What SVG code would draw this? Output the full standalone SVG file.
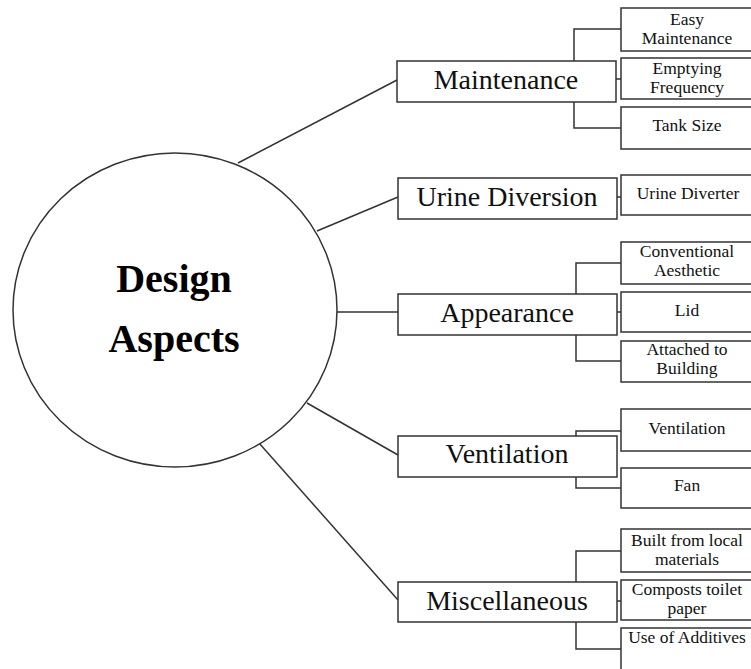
<svg xmlns="http://www.w3.org/2000/svg" width="751" height="669" viewBox="0 0 751 669">
<style>
.b{fill:#fff;stroke:#333;stroke-width:1.5}
.c{fill:none;stroke:#333;stroke-width:1.5}
.m{font-family:"Liberation Serif","Times New Roman",serif;font-size:28px;fill:#111;text-anchor:middle}
.s{font-family:"Liberation Serif","Times New Roman",serif;font-size:17.5px;fill:#111;text-anchor:middle}
.h{font-family:"Liberation Serif","Times New Roman",serif;font-size:40px;font-weight:bold;fill:#000;text-anchor:middle}
</style>
<rect width="751" height="669" fill="#fff"/>
<g id="connectors">
<line class="c" x1="238" y1="163" x2="397" y2="80"/>
<line class="c" x1="317" y1="231" x2="398" y2="197"/>
<line class="c" x1="337" y1="312" x2="398" y2="312"/>
<line class="c" x1="307" y1="403" x2="398" y2="455"/>
<line class="c" x1="259" y1="443" x2="398" y2="600"/>
<polyline class="c" points="621,29 574,29 574,128 621,128"/>
<line class="c" x1="616" y1="79" x2="621" y2="79"/>
<line class="c" x1="617" y1="197" x2="621" y2="197"/>
<polyline class="c" points="621,263 576,263 576,361 621,361"/>
<line class="c" x1="617" y1="312" x2="621" y2="312"/>
<polyline class="c" points="621,431 576,431 576,436"/>
<polyline class="c" points="576,477 576,488 621,488"/>
<polyline class="c" points="621,551 576,551 576,649 621,649"/>
<line class="c" x1="617" y1="601" x2="621" y2="601"/>
</g>
<g id="design-aspects">
<ellipse class="b" cx="175" cy="310" rx="162" ry="157"/>
<text class="h" x="174" y="292">Design</text>
<text class="h" x="174" y="352">Aspects</text>
</g>
<g id="maintenance">
<rect class="b" x="397" y="61" width="219" height="41"/>
<text class="m" x="506" y="89">Maintenance</text>
</g>
<g id="easy-maintenance">
<rect class="b" x="621" y="8" width="140" height="43"/>
<text class="s" x="687" y="25">Easy</text>
<text class="s" x="687" y="44">Maintenance</text>
</g>
<g id="emptying-frequency">
<rect class="b" x="621" y="58" width="140" height="41"/>
<text class="s" x="687" y="74">Emptying</text>
<text class="s" x="687" y="93">Frequency</text>
</g>
<g id="tank-size">
<rect class="b" x="621" y="107" width="140" height="42"/>
<text class="s" x="687" y="131">Tank Size</text>
</g>
<g id="urine-diversion">
<rect class="b" x="398" y="178" width="219" height="41"/>
<text class="m" x="507" y="206">Urine Diversion</text>
</g>
<g id="urine-diverter">
<rect class="b" x="621" y="175" width="140" height="40"/>
<text class="s" x="688" y="199">Urine Diverter</text>
</g>
<g id="appearance">
<rect class="b" x="398" y="294" width="219" height="41"/>
<text class="m" x="507" y="322">Appearance</text>
</g>
<g id="conventional-aesthetic">
<rect class="b" x="621" y="242" width="140" height="42"/>
<text class="s" x="687" y="257">Conventional</text>
<text class="s" x="687" y="276">Aesthetic</text>
</g>
<g id="lid">
<rect class="b" x="621" y="292" width="140" height="40"/>
<text class="s" x="687" y="316">Lid</text>
</g>
<g id="attached-to-building">
<rect class="b" x="621" y="341" width="140" height="41"/>
<text class="s" x="687" y="355">Attached to</text>
<text class="s" x="687" y="374">Building</text>
</g>
<g id="ventilation">
<rect class="b" x="398" y="436" width="219" height="41"/>
<text class="m" x="507" y="463">Ventilation</text>
</g>
<g id="ventilation-sub">
<rect class="b" x="621" y="409" width="140" height="42"/>
<text class="s" x="687" y="434">Ventilation</text>
</g>
<g id="fan">
<rect class="b" x="621" y="468" width="140" height="40"/>
<text class="s" x="687" y="491">Fan</text>
</g>
<g id="miscellaneous">
<rect class="b" x="398" y="582" width="219" height="40"/>
<text class="m" x="507" y="610">Miscellaneous</text>
</g>
<g id="built-from-local-materials">
<rect class="b" x="621" y="529" width="140" height="43"/>
<text class="s" x="687" y="546">Built from local</text>
<text class="s" x="687" y="565">materials</text>
</g>
<g id="composts-toilet-paper">
<rect class="b" x="621" y="580" width="140" height="40"/>
<text class="s" x="687" y="595">Composts toilet</text>
<text class="s" x="687" y="614">paper</text>
</g>
<g id="use-of-additives">
<rect class="b" x="621" y="628" width="140" height="50"/>
<text class="s" x="687" y="643">Use of Additives</text>
</g>
</svg>
